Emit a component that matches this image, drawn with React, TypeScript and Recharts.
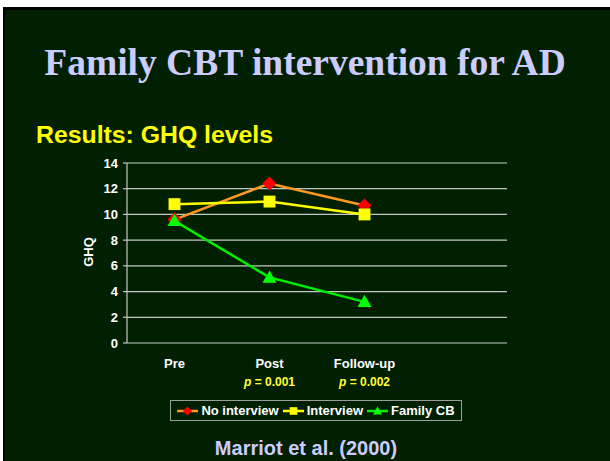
import React from "react";
import { LineChart, Line, XAxis, YAxis, CartesianGrid } from "recharts";

const categories = ["Pre", "Post", "Follow-up", ""];
const pValues = ["", "0.001", "0.002", ""];
const noInterview = [9.6, 12.4, 10.7, null];
const interview = [10.8, 11.0, 10.0, null];
const familyCB = [9.5, 5.1, 3.2, null];
const yTicks = [0, 2, 4, 6, 8, 10, 12, 14];
const frameTicks = [...categories.map((_, i) => i), categories.length];

const data = categories.map((name, i) => ({
  name,
  p: pValues[i],
  noInterview: noInterview[i],
  interview: interview[i],
  familyCB: familyCB[i],
}));

const SANS = "'Liberation Sans', Arial, sans-serif";
const SERIF = "'Liberation Serif', 'Times New Roman', serif";
const gridColor = "#c4c8c4";

type Shape = "diamond" | "square" | "triangle";

const Marker = ({ cx, cy, fill, shape, r }: { cx?: number; cy?: number; fill: string; shape: Shape; r: number }) => {
  if (cx == null || cy == null || isNaN(cx) || isNaN(cy)) return null;
  if (shape === "diamond")
    return <polygon points={`${cx},${cy - r} ${cx + r},${cy} ${cx},${cy + r} ${cx - r},${cy}`} fill={fill} />;
  if (shape === "square")
    return <rect x={cx - r * 0.85} y={cy - r * 0.85} width={r * 1.7} height={r * 1.7} fill={fill} />;
  return <polygon points={`${cx},${cy - r} ${cx + r},${cy + r * 0.75} ${cx - r},${cy + r * 0.75}`} fill={fill} />;
};

const series: { key: string; label: string; line: string; marker: string; shape: Shape }[] = [
  { key: "noInterview", label: "No interview", line: "#ff9922", marker: "#ff0000", shape: "diamond" },
  { key: "interview", label: "Interview", line: "#ffff00", marker: "#ffff00", shape: "square" },
  { key: "familyCB", label: "Family CB", line: "#00ee00", marker: "#00ff00", shape: "triangle" },
];

const CategoryTick = (props: any) => {
  const { x, y, payload } = props;
  const p = pValues[payload.index];
  return (
    <g fontFamily={SANS} fontWeight="bold">
      <text x={x} y={y + 25} textAnchor="middle" fill="#ffffff" fontSize={13}>
        {payload.value}
      </text>
      {p && (
        <text x={x} y={y + 43} textAnchor="middle" fill="#ffff33" fontSize={12}>
          <tspan fontStyle="italic">p</tspan> = {p}
        </text>
      )}
    </g>
  );
};

export default function App() {
  return (
    <div style={{ position: "absolute", left: 0, top: 0, width: 610, height: 461, background: "#ffffff", overflow: "hidden" }}>
      <div
        style={{
          position: "absolute",
          left: 3,
          top: 7,
          width: 607,
          height: 454,
          background: "#012001",
          borderLeft: "2px solid #000",
          borderTop: "3px solid #000",
          boxSizing: "border-box",
        }}
      />
      <div
        style={{
          position: "absolute",
          left: 0,
          width: 610,
          top: 41,
          textAlign: "center",
          fontFamily: SERIF,
          fontWeight: "bold",
          fontSize: 37.5,
          lineHeight: 1.15,
          color: "#ccccff",
          whiteSpace: "nowrap",
        }}
      >
        Family CBT intervention for AD
      </div>
      <div
        style={{
          position: "absolute",
          left: 36,
          top: 121,
          fontFamily: SANS,
          fontWeight: "bold",
          fontSize: 24.8,
          lineHeight: 1.15,
          color: "#ffff00",
          whiteSpace: "nowrap",
        }}
      >
        Results: GHQ levels
      </div>
      <div
        style={{
          position: "absolute",
          left: 88,
          top: 252,
          transform: "translate(-50%, -50%) rotate(-90deg)",
          fontFamily: SANS,
          fontWeight: "bold",
          fontSize: 13,
          color: "#ffffff",
          whiteSpace: "nowrap",
        }}
      >
        GHQ
      </div>

      <div style={{ position: "absolute", left: 0, top: 0 }}>
        <LineChart width={610} height={461} data={data} margin={{ top: 163, right: 103, bottom: 58, left: 87 }}>
          <CartesianGrid xAxisId="cat" vertical={false} stroke={gridColor} strokeWidth={1.2} />
          <XAxis
            xAxisId="frame"
            type="number"
            domain={[0, categories.length]}
            ticks={frameTicks}
            tick={false}
            tickSize={5}
            height={0}
            axisLine={{ stroke: gridColor, strokeWidth: 1.2 }}
            tickLine={{ stroke: gridColor, strokeWidth: 1.2 }}
          />
          <XAxis
            xAxisId="cat"
            dataKey="name"
            scale="band"
            interval={0}
            axisLine={false}
            tickLine={false}
            tickSize={0}
            tickMargin={0}
            height={60}
            tick={<CategoryTick />}
          />
          <YAxis
            domain={[0, 14]}
            ticks={yTicks}
            width={40}
            tickSize={4}
            tickMargin={5}
            axisLine={{ stroke: gridColor, strokeWidth: 1.2 }}
            tickLine={{ stroke: gridColor, strokeWidth: 1.2 }}
            tick={{ fill: "#ffffff", fontSize: 13, fontWeight: "bold", fontFamily: SANS }}
          />
          {series.map((s) => (
            <Line
              key={s.key}
              xAxisId="cat"
              type="linear"
              dataKey={s.key}
              stroke={s.line}
              strokeWidth={2.5}
              isAnimationActive={false}
              dot={(p: any) => <Marker key={`${s.key}-${p.index}`} cx={p.cx} cy={p.cy} fill={s.marker} shape={s.shape} r={7} />}
              activeDot={false}
            />
          ))}
        </LineChart>
      </div>

      <div
        style={{
          position: "absolute",
          left: 170,
          top: 400,
          width: 292,
          height: 21,
          border: "1px solid #9aa09a",
          boxSizing: "border-box",
          display: "flex",
          alignItems: "center",
          justifyContent: "center",
          gap: 4,
          fontFamily: SANS,
          fontWeight: "bold",
          fontSize: 13,
          color: "#ffffff",
          whiteSpace: "nowrap",
        }}
      >
        {series.map((s) => (
          <div key={s.key} style={{ display: "flex", alignItems: "center", gap: 3 }}>
            <svg width={21} height={12}>
              <line x1={0} y1={6} x2={21} y2={6} stroke={s.line} strokeWidth={2.5} />
              <Marker cx={10.5} cy={6} fill={s.marker} shape={s.shape} r={4.5} />
            </svg>
            <span>{s.label}</span>
          </div>
        ))}
      </div>

      <div
        style={{
          position: "absolute",
          left: 0,
          width: 610,
          top: 437,
          textAlign: "center",
          paddingLeft: 2,
          boxSizing: "border-box",
          fontFamily: SANS,
          fontWeight: "bold",
          fontSize: 20,
          lineHeight: 1.15,
          color: "#ccccff",
          whiteSpace: "nowrap",
        }}
      >
        Marriot et al. (2000)
      </div>
    </div>
  );
}
